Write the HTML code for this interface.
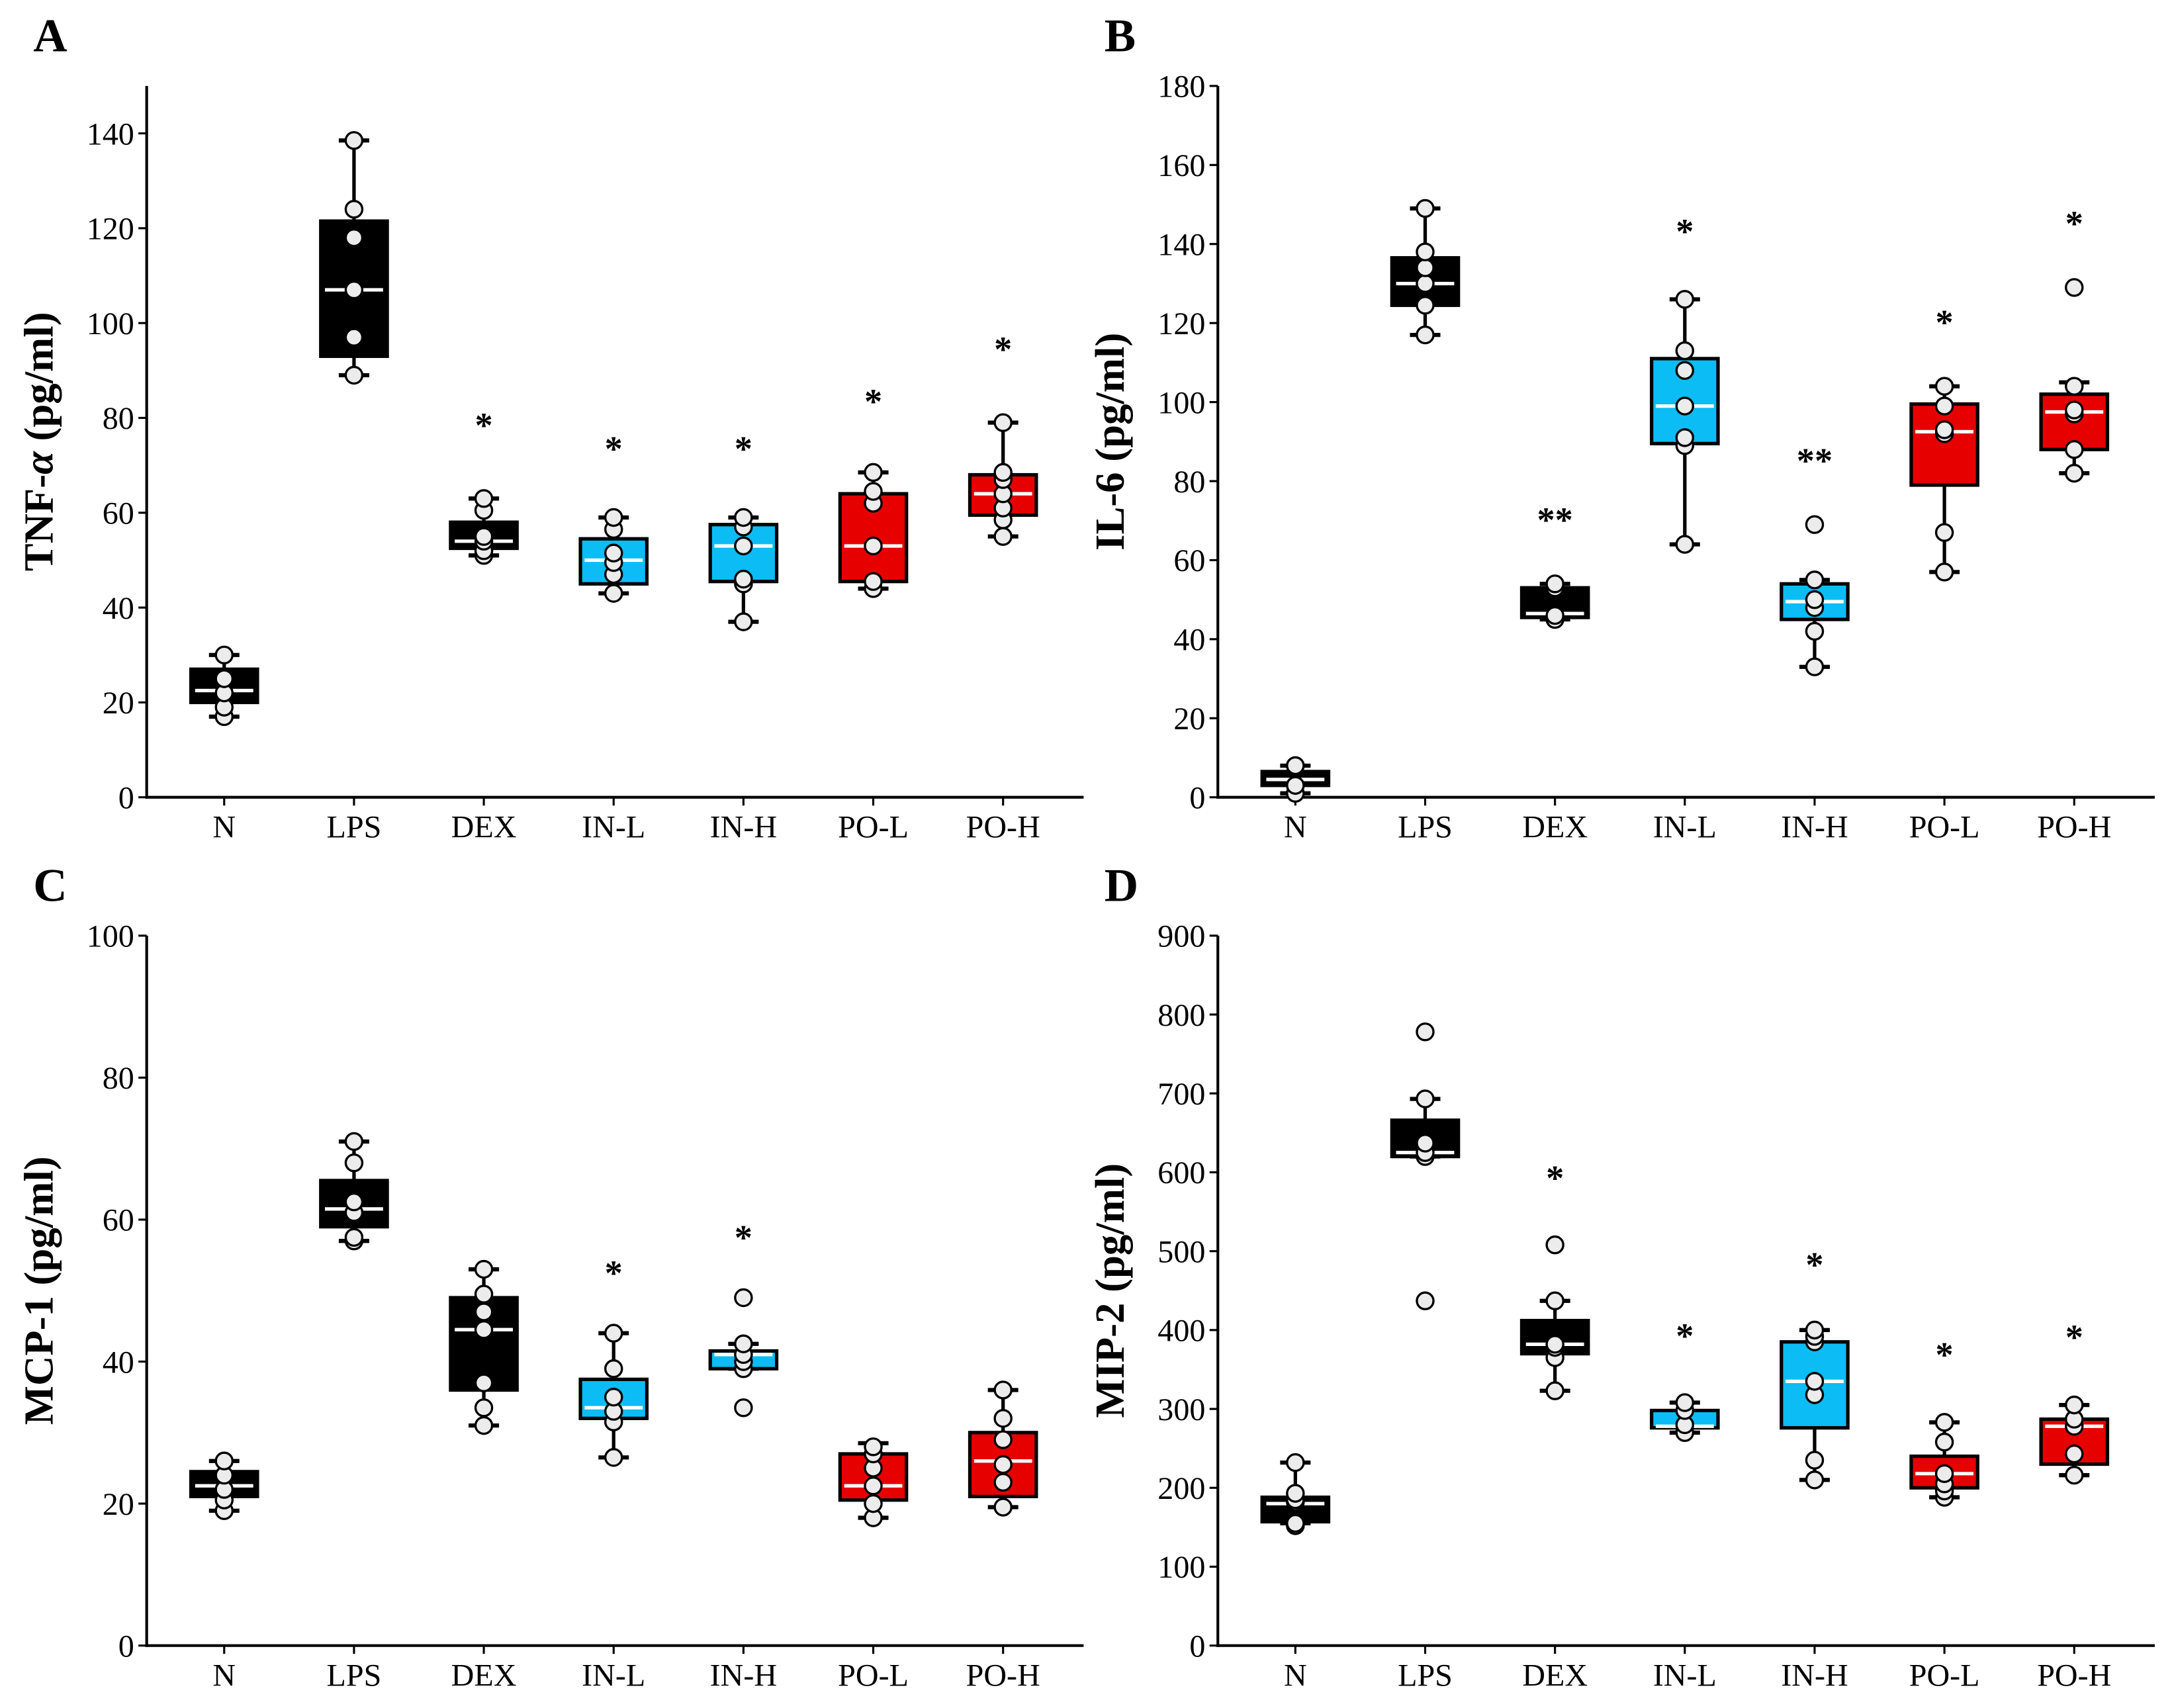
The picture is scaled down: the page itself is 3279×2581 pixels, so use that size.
<!DOCTYPE html>
<html><head><meta charset="utf-8">
<style>
html,body{margin:0;padding:0;background:#fff;}
svg{display:block;}
text{font-family:"Liberation Serif",serif;}
</style></head>
<body>
<svg id="fig" width="3279" height="2581" viewBox="0 0 1568 1234" xmlns="http://www.w3.org/2000/svg"></svg>
<script>
const categories = ["N","LPS","DEX","IN-L","IN-H","PO-L","PO-H"];
const boxColors = ["#000000","#000000","#000000","#0bbdf4","#0bbdf4","#e60000","#e60000"];

// Panel A: TNF-alpha
const aLow  = [17, 89, 51, 43, 37, 44, 55];
const aQ1   = [20, 93, 52.5, 45, 45.5, 45.5, 59.5];
const aMed  = [22.5, 107, 54, 50, 53, 53, 64];
const aQ3   = [27, 121.5, 58, 54.5, 57.5, 64, 68];
const aHigh = [30, 138.5, 63, 59, 59, 68.5, 79];
const aPts  = [[17,19,22,25,30],[89,97,107,118,124,138.5],[51,52,54,55,60.5,63],[43,47,49.5,51.5,56.5,59],[37,45,46,53,57,59],[44,45.5,53,62,64.5,68.5],[55,58.5,61,64,67,68.5,79]];
const aStars = ["","","*","*","*","*","*"];
const aStarY = [0,0,80,75,75,85,96];
const aTicks = [0,20,40,60,80,100,120,140];

// Panel B: IL-6
const bLow  = [1, 117, 45, 64, 33, 57, 82];
const bQ1   = [3, 124.5, 45.5, 89.5, 45, 79, 88];
const bMed  = [4.5, 130, 46.5, 99, 49.5, 92.5, 97.5];
const bQ3   = [6.5, 136.5, 53, 111, 54, 99.5, 102];
const bHigh = [8, 149, 54, 126, 55, 104, 105];
const bPts  = [[1,3,8],[117,124.5,130,134,138,149],[45,46,53,54],[64,89,91,99,108,113,126],[33,42,48,50,55,69],[57,67,92,93,99,104],[82,88,97,98,104,129]];
const bStars = ["","","**","*","**","*","*"];
const bStarY = [0,0,72,145,87,122,147];
const bTicks = [0,20,40,60,80,100,120,140,160,180];

// Panel C: MCP-1
const cLow  = [19, 57, 31, 26.5, 39, 18, 19.5];
const cQ1   = [21, 59, 36, 32, 39, 20.5, 21];
const cMed  = [22.5, 61.5, 44.5, 33.5, 41, 22.5, 26];
const cQ3   = [24.5, 65.5, 49, 37.5, 41.5, 27, 30];
const cHigh = [26, 71, 53, 44, 42.5, 28.5, 36];
const cPts  = [[19,20.5,22,24,26],[57,57.5,61,62.5,68,71],[31,33.5,37,44.5,47,49.5,53],[26.5,31.5,33,35,39,44],[33.5,39,40,41,42.5,49],[18,20,22.5,25,27,28],[19.5,23,25.5,29,32,36]];
const cStars = ["","","","*","*","",""];
const cStarY = [0,0,0,53.5,58.5,0,0];
const cTicks = [0,20,40,60,80,100];

// Panel D: MIP-2
const dLow  = [155, 620, 323, 270, 210, 188, 216];
const dQ1   = [157, 620, 370, 276, 276, 200, 230];
const dMed  = [180, 625, 382, 278, 335, 218, 278];
const dQ3   = [188, 666, 412, 298, 385, 240, 287];
const dHigh = [232, 693, 437, 308, 400, 283, 305];
const dPts  = [[152,155,182,185,193,232],[437,620,625,637,693,778],[323,365,378,382,437,508],[270,280,298,308],[210,235,318,335,385,392,400],[188,196,205,218,258,283],[216,243,278,287,305]];
const dStars = ["","","*","*","*","*","*"];
const dStarY = [0,0,602,402,492,378,400];
const dTicks = [0,100,200,300,400,500,600,700,800,900];

const NS = "http://www.w3.org/2000/svg";
const svg = document.getElementById("fig");
function mk(tag, attrs, parent, txt){
  const e = document.createElementNS(NS, tag);
  for (const k in attrs) e.setAttribute(k, attrs[k]);
  if (txt !== undefined) e.textContent = txt;
  (parent || svg).appendChild(e);
  return e;
}

function panel(cfg){
  const g = mk("g", {});
  
  
  const x0 = cfg.x0, yTop = cfg.yTop, yBot = cfg.yBot, xEnd = x0 + 677;
  const ymax = cfg.ymax;
  const yScale = v => yBot - (v / ymax) * (yBot - yTop);
  const xScale = i => x0 + 56 + i * 93.8;

  const lbl = mk("text", {x: x0-82, y: yTop-25, "font-size": 34, "font-weight": "bold"}, g, cfg.letter);
  
  

  const yax = mk("line", {x1: x0, y1: yTop, x2: x0, y2: yBot+1, stroke: "#000", "stroke-width": 2}, g);
  
  
  const xax = mk("line", {x1: x0-1, y1: yBot, x2: xEnd, y2: yBot, stroke: "#000", "stroke-width": 2}, g);
  
  

  cfg.ticks.forEach(t => {
    const y = yScale(t);
    mk("line", {x1: x0-6, y1: y, x2: x0, y2: y, stroke: "#000", "stroke-width": 1.5}, g);
    const tl = mk("text", {x: x0-9, y: y+8, "font-size": 23, "text-anchor": "end"}, g, String(t));
    
    
  });

  const ty = (yTop + yBot) / 2;
  const title = mk("text", {x: 0, y: 0, "font-size": 30, "font-weight": "bold", "text-anchor": "middle", transform: `translate(${x0-68},${ty}) rotate(-90)`}, g);
  
  
  if (cfg.titleItalic) {
    mk("tspan", {}, title, "TNF-");
    mk("tspan", {"font-style": "italic"}, title, "α");
    mk("tspan", {}, title, " (pg/ml)");
  } else {
    title.textContent = cfg.title;
  }

  categories.forEach((c, i) => {
    const cx = xScale(i);
    mk("line", {x1: cx, y1: yBot, x2: cx, y2: yBot+6, stroke: "#000", "stroke-width": 1.5}, g);
    const cl = mk("text", {x: cx, y: yBot+29, "font-size": 23, "text-anchor": "middle"}, g, c);
    
    

    const bg = mk("g", {}, g);
    
    
    const hw = 24, cw = 11;
    mk("line", {x1: cx, y1: yScale(cfg.low[i]), x2: cx, y2: yScale(cfg.q1[i]), stroke: "#000", "stroke-width": 2.5}, bg);
    mk("line", {x1: cx, y1: yScale(cfg.q3[i]), x2: cx, y2: yScale(cfg.high[i]), stroke: "#000", "stroke-width": 2.5}, bg);
    mk("line", {x1: cx-cw, y1: yScale(cfg.low[i]), x2: cx+cw, y2: yScale(cfg.low[i]), stroke: "#000", "stroke-width": 3}, bg);
    mk("line", {x1: cx-cw, y1: yScale(cfg.high[i]), x2: cx+cw, y2: yScale(cfg.high[i]), stroke: "#000", "stroke-width": 3}, bg);
    mk("rect", {x: cx-hw, y: yScale(cfg.q3[i]), width: 2*hw, height: Math.max(1, yScale(cfg.q1[i]) - yScale(cfg.q3[i])), fill: boxColors[i], stroke: "#000", "stroke-width": 2.5}, bg);
    mk("line", {x1: cx-hw+3, y1: yScale(cfg.med[i]), x2: cx+hw-3, y2: yScale(cfg.med[i]), stroke: "#fff", "stroke-width": 2.5}, bg);
    cfg.pts[i].forEach(v => {
      const p = mk("circle", {cx: cx, cy: yScale(v), r: 6, fill: "#ececec", stroke: "#000", "stroke-width": 1.6}, bg);
      
      
    });
    if (cfg.stars[i]) {
      const s = mk("text", {x: cx, y: yScale(cfg.starY[i]) + 14, "font-size": 26, "font-weight": "bold", "text-anchor": "middle"}, g, cfg.stars[i]);
      
      
    }
  });
}

panel({name:"panel-a-tnf", letter:"A", x0:106, yTop:62, yBot:576, ymax:150, ticks:aTicks, titleItalic:true,
  low:aLow,q1:aQ1,med:aMed,q3:aQ3,high:aHigh,pts:aPts,stars:aStars,starY:aStarY});
panel({name:"panel-b-il6", letter:"B", x0:880, yTop:62, yBot:576, ymax:180, ticks:bTicks, title:"IL-6 (pg/ml)",
  low:bLow,q1:bQ1,med:bMed,q3:bQ3,high:bHigh,pts:bPts,stars:bStars,starY:bStarY});
panel({name:"panel-c-mcp1", letter:"C", x0:106, yTop:676, yBot:1189, ymax:100, ticks:cTicks, title:"MCP-1 (pg/ml)",
  low:cLow,q1:cQ1,med:cMed,q3:cQ3,high:cHigh,pts:cPts,stars:cStars,starY:cStarY});
panel({name:"panel-d-mip2", letter:"D", x0:880, yTop:676, yBot:1189, ymax:900, ticks:dTicks, title:"MIP-2 (pg/ml)",
  low:dLow,q1:dQ1,med:dMed,q3:dQ3,high:dHigh,pts:dPts,stars:dStars,starY:dStarY});
</script>
</body></html>
